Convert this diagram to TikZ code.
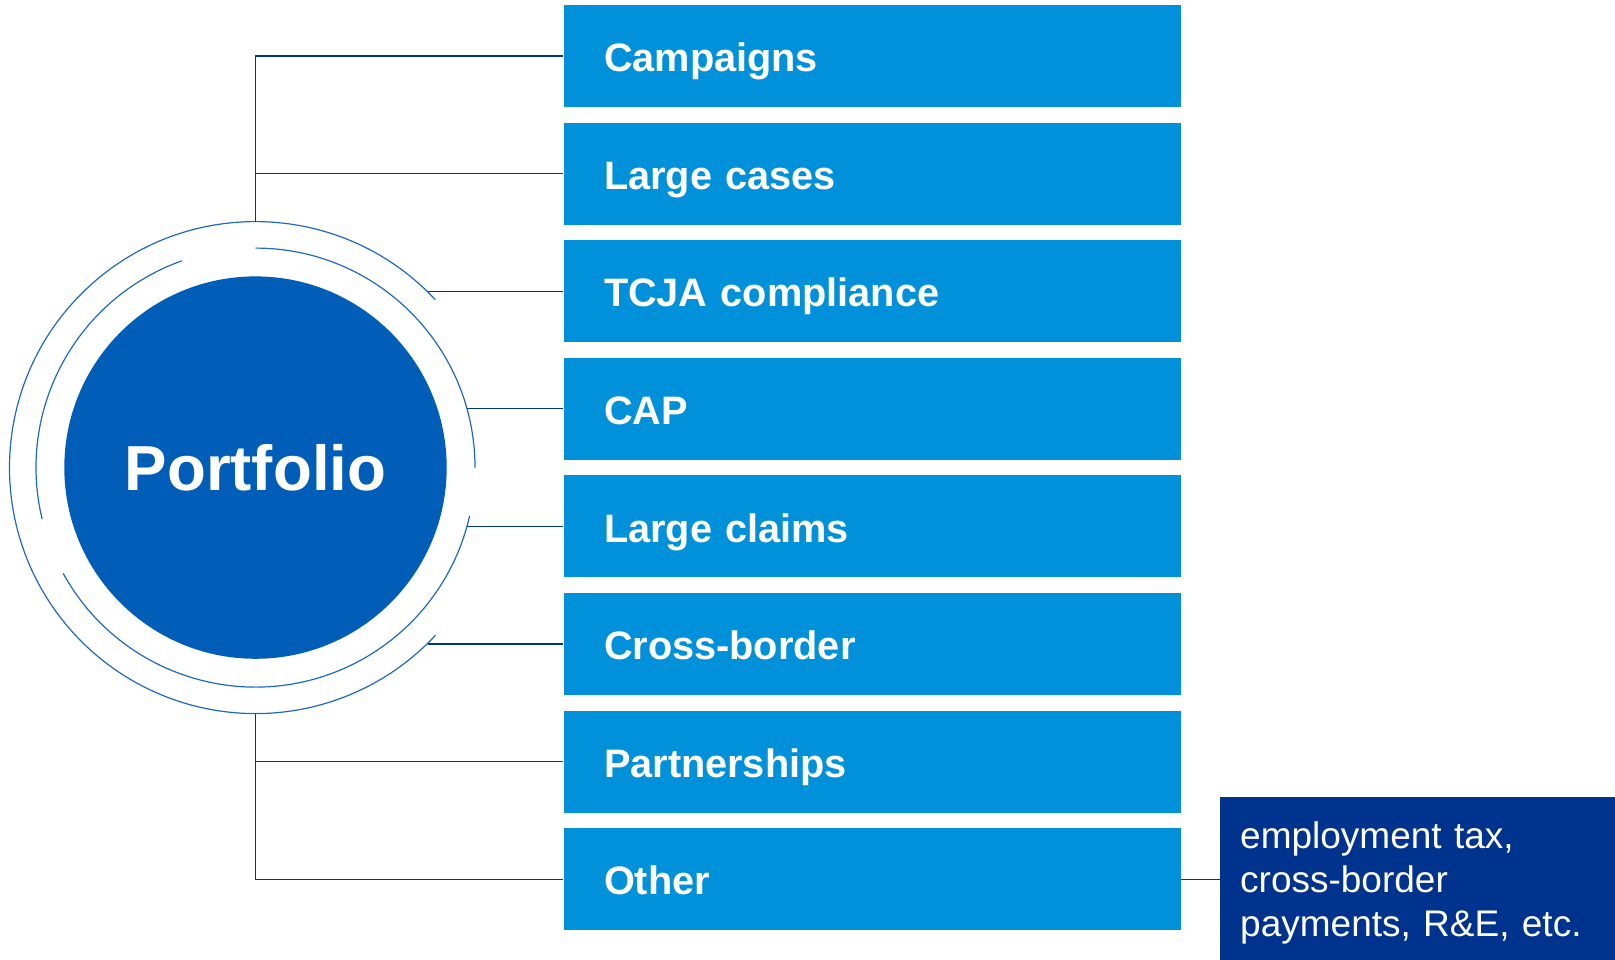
\documentclass[tikz,border=0pt]{standalone}
\usepackage{fontspec}
\setmainfont{Liberation Sans}
\definecolor{kpmglight}{HTML}{0091DA}
\definecolor{kpmgmid}{HTML}{005EB8}
\definecolor{kpmgnavy}{HTML}{00338D}
\definecolor{kpmgring}{HTML}{1F68C2}
\begin{document}
\begin{tikzpicture}[x=1pt,y=1pt,
  item/.style={rectangle, fill=kpmglight, text=white,
    font=\fontsize{39.7}{48}\selectfont\bfseries,
    text width=536.5pt, inner xsep=40.5pt, inner ysep=0pt,
    minimum height=102pt, text height=31.4pt, text depth=0pt, align=left},
  link/.style={draw=kpmgnavy, line width=1.3pt},
  ringline/.style={draw=kpmgring, line width=1.2pt}]
\useasboundingbox (0,0) rectangle (1615,960);

% category boxes
\node[item] (b1) at (872.25,904.0) {Campaigns};
\node[item] (b2) at (872.25,786.4) {Large cases};
\node[item] (b3) at (872.25,668.8) {TCJA compliance};
\node[item] (b4) at (872.25,551.2) {CAP};
\node[item] (b5) at (872.25,433.6) {Large claims};
\node[item] (b6) at (872.25,316.0) {Cross-border};
\node[item] (b7) at (872.25,198.4) {Partnerships};
\node[item] (b8) at (872.25,80.8) {Other};

% central disc
\coordinate (C) at (255.5,492.4);
\node[circle, fill=kpmgmid, minimum size=382.4pt, inner sep=0pt, text=white,
  font=\fontsize{63.6}{70}\selectfont\bfseries, text height=45.5pt, text depth=0pt]
  (port) at (C) {Portfolio};

% broken rings around the disc
\draw[ringline] (C) ++(43:246) arc[start angle=43, end angle=317, radius=246];
\draw[ringline] (C) ++(0:219.5) arc[start angle=0, end angle=90, radius=219.5];
\draw[ringline] (C) ++(109.6:219.5) arc[start angle=109.6, end angle=193.6, radius=219.5];
\draw[ringline] (C) ++(208.8:219.5) arc[start angle=208.8, end angle=347.3, radius=219.5];

% connector start points on the rings
\path (C) ++(90:246) coordinate (rt);
\path (C) ++(270:246) coordinate (rb);
\path (C) ++(45.6:246) coordinate (s3);
\path (C) ++(15.5:219.5) coordinate (s4);
\path (C) ++(-15.5:219.5) coordinate (s5);
\path (C) ++(-45.6:246) coordinate (s6);

% connectors
\draw[link] (rt) |- (b1.west);
\draw[link] (rt) |- (b2.west);
\draw[link] (b3.west) -- (b3.west -| s3);
\draw[link] (b4.west) -- (b4.west -| s4);
\draw[link] (b5.west) -- (b5.west -| s5);
\draw[link] (b6.west) -- (b6.west -| s6);
\draw[link] (rb) |- (b7.west);
\draw[link] (rb) |- (b8.west);

% detail box for "Other"
\node[fill=kpmgnavy, text=white, anchor=north west, inner xsep=20pt, inner ysep=0pt,
  text width=375pt, align=left, font=\fontsize{37}{44.4}\selectfont]
  (detail) at (1220,163.3)
  {\rule{0pt}{51.3pt}employment tax,\\cross-border\\payments, R\&E, etc.\rule[-23.2pt]{0pt}{23.2pt}};
\draw[link] (b8.east) -- (b8.east -| detail.west);
\end{tikzpicture}
\end{document}
